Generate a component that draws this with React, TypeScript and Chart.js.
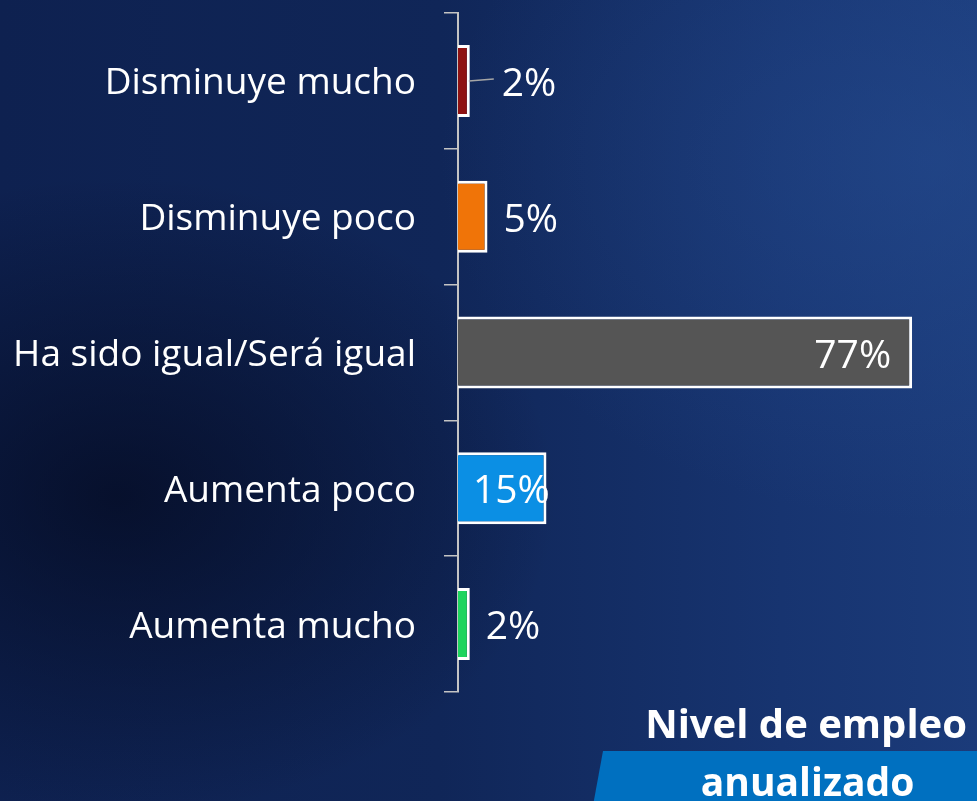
import React, { useEffect, useRef } from "react";
import { Chart, registerables } from "chart.js";

Chart.register(...registerables);

const categories = [
  "Disminuye mucho",
  "Disminuye poco",
  "Ha sido igual/Será igual",
  "Aumenta poco",
  "Aumenta mucho",
];
const values = [2, 5, 77, 15, 2];
const barColors = ["#8e1212", "#f07408", "#555555", "#0b8fe4", "#1ed45e"];
const valueLabels = ["2%", "5%", "77%", "15%", "2%"];
const titleLine1 = "Nivel de empleo";
const titleLine2 = "anualizado";

// label placement style: mode and pixel offset
const labelPlacement = [
  { mode: "outside", offset: 32, leader: true },
  { mode: "outside", offset: 16, leader: false },
  { mode: "insideEnd", offset: 21, leader: false },
  { mode: "insideStart", offset: 15, leader: false },
  { mode: "outside", offset: 16, leader: false },
];

const FONT = "'Open Sans', 'Noto Sans', sans-serif";

const valueLabelPlugin = {
  id: "valueLabels",
  afterDatasetsDraw(chart: any) {
    const ctx = chart.ctx;
    const meta = chart.getDatasetMeta(0);
    ctx.save();
    ctx.font = `39px ${FONT}`;
    ctx.fillStyle = "#ffffff";
    ctx.textBaseline = "middle";
    meta.data.forEach((bar: any, i: number) => {
      const p = labelPlacement[i];
      const y = bar.y + 4;
      let x = 0;
      if (p.mode === "outside") {
        x = bar.x + p.offset;
        ctx.textAlign = "left";
      } else if (p.mode === "insideEnd") {
        x = bar.x - p.offset;
        ctx.textAlign = "right";
      } else {
        x = bar.base + p.offset;
        ctx.textAlign = "left";
      }
      if (p.leader) {
        ctx.save();
        ctx.strokeStyle = "#a6a6a6";
        ctx.lineWidth = 1.5;
        ctx.beginPath();
        ctx.moveTo(bar.x - 1, bar.y);
        ctx.lineTo(x - 8, bar.y - 2);
        ctx.stroke();
        ctx.restore();
      }
      ctx.fillText(valueLabels[i], x, y);
    });
    ctx.restore();
  },
};

function BarChart() {
  const ref = useRef<HTMLCanvasElement>(null);
  useEffect(() => {
    if (!ref.current) return;
    const chart = new Chart(ref.current, {
      type: "bar",
      data: {
        labels: categories,
        datasets: [
          {
            data: values,
            backgroundColor: barColors,
            borderColor: "#ffffff",
            borderWidth: 3,
            barPercentage: 0.53,
            categoryPercentage: 1,
          },
        ],
      },
      options: {
        indexAxis: "y",
        animation: false,
        responsive: false,
        devicePixelRatio: 1,
        layout: { padding: { top: 13, bottom: 109, left: 0, right: 0 } },
        plugins: {
          legend: { display: false },
          tooltip: { enabled: false },
        },
        scales: {
          x: {
            display: false,
            min: 0,
            max: 88,
          },
          y: {
            afterFit: (scale: any) => {
              scale.width = 458;
              scale.paddingTop = 0;
              scale.paddingBottom = 0;
            },
            grid: {
              display: true,
              drawOnChartArea: false,
              drawTicks: true,
              tickLength: 14,
              color: "#c4c4c4",
              lineWidth: 1.5,
              offset: true,
            },
            border: { display: true, color: "#c4c4c4", width: 2 },
            ticks: {
              color: "#ffffff",
              padding: 28,
              labelOffset: 3,
              font: { family: FONT, size: 37 },
            },
          },
        },
      },
      plugins: [valueLabelPlugin],
    });
    return () => chart.destroy();
  }, []);
  return <canvas ref={ref} width={977} height={801} style={{ position: "absolute", left: 0, top: 0 }} />;
}

export default function App() {
  return (
    <div
      style={{
        position: "fixed",
        left: 0,
        top: 0,
        width: 977,
        height: 801,
        overflow: "hidden",
        background:
          "radial-gradient(ellipse 45% 40% at 12% 62%, rgba(4,10,32,0.75), rgba(4,10,32,0) 100%), radial-gradient(ellipse 50% 45% at 95% 20%, rgba(40,80,150,0.45), rgba(40,80,150,0) 100%), linear-gradient(90deg, #0e2150 0%, #102658 45%, #173470 80%, #1b3b7a 100%)",
      }}
    >
      <div
        style={{
          position: "absolute",
          left: 592,
          top: 751,
          width: 400,
          height: 60,
          background: "#0070c0",
          clipPath: "polygon(11px 0, 100% 0, 100% 100%, 0 100%)",
        }}
      />
      <BarChart />
      <div
        style={{
          position: "absolute",
          right: 10,
          top: 697,
          fontFamily: FONT,
          fontWeight: 700,
          fontSize: 40,
          color: "#ffffff",
          whiteSpace: "nowrap",
          lineHeight: "52px",
        }}
      >
        {titleLine1}
      </div>
      <div
        style={{
          position: "absolute",
          left: 620,
          width: 375,
          top: 755,
          textAlign: "center",
          fontFamily: FONT,
          fontWeight: 700,
          fontSize: 39,
          color: "#ffffff",
          whiteSpace: "nowrap",
          lineHeight: "52px",
        }}
      >
        {titleLine2}
      </div>
    </div>
  );
}
